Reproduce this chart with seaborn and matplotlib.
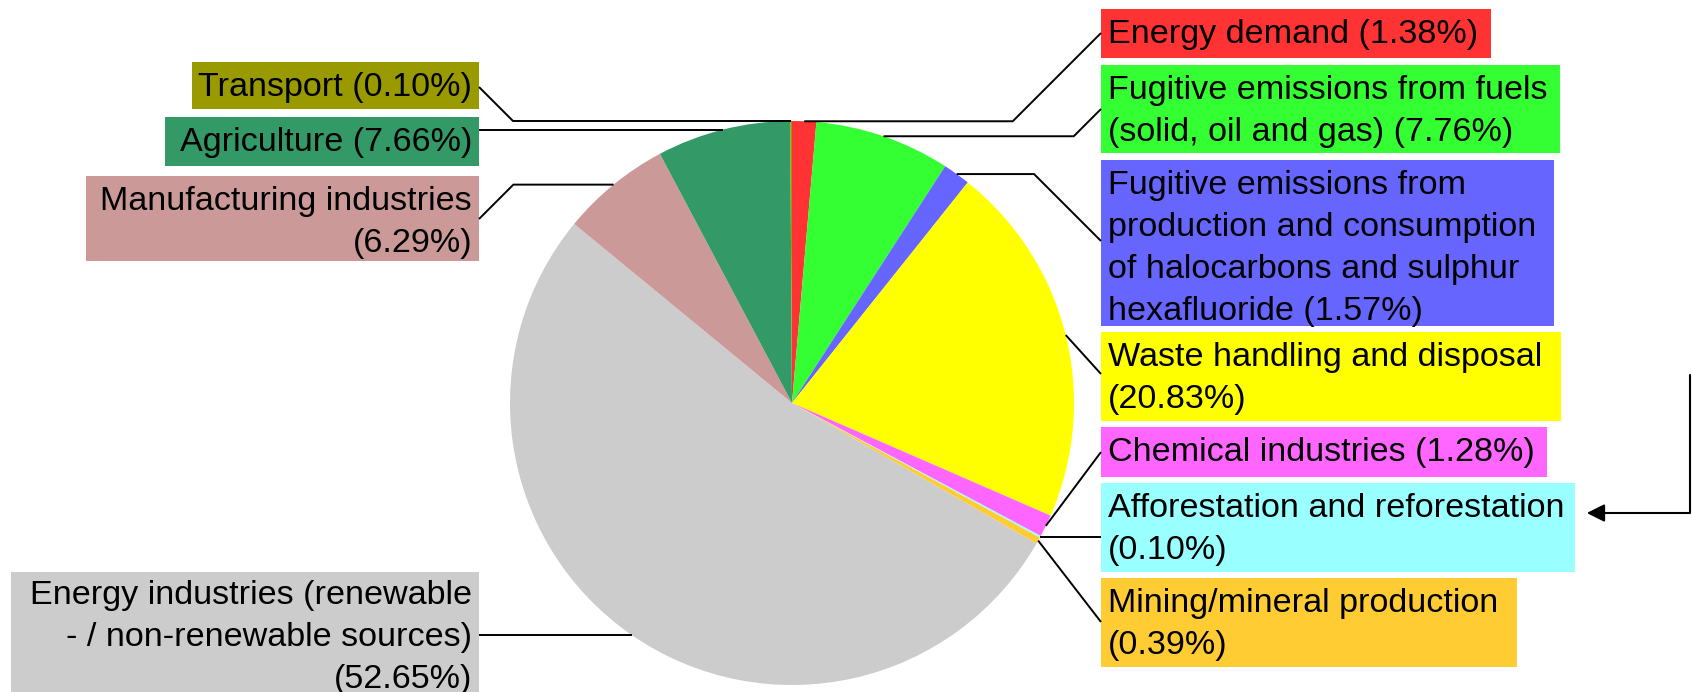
import numpy as np
import matplotlib
matplotlib.use("Agg")
import matplotlib.pyplot as plt
import seaborn as sns
from matplotlib.patches import Rectangle

sns.set_theme(style="white")
plt.rcParams['font.family'] = ['Liberation Sans', 'DejaVu Sans']

# ---- data ----
categories = [
    "Energy demand",
    "Fugitive emissions from fuels\n(solid, oil and gas)",
    "Fugitive emissions from\nproduction and consumption\nof halocarbons and sulphur\nhexafluoride",
    "Waste handling and disposal\n",
    "Chemical industries",
    "Afforestation and reforestation\n",
    "Mining/mineral production\n",
    "Energy industries (renewable\n- / non-renewable sources)\n",
    "Manufacturing industries\n",
    "Agriculture",
    "Transport",
]
shares = [1.38, 7.76, 1.57, 20.83, 1.28, 0.10, 0.39, 52.65, 6.29, 7.66, 0.10]
colors = ["#FF3333", "#33FF33", "#6666FF", "#FFFF00", "#FF66FF", "#99FFFF",
          "#FFCC33", "#CCCCCC", "#CC9999", "#339966", "#999900"]

# ---- layout (pixel coordinates, y downward) ----
W, H = 1692, 692
CX, CY, R = 792, 403, 282
# box: (x0, y0, x1, y1), side, connection y (None -> anchor y), text offset
boxes = [
    ((1101, 9, 1491, 58), "R", 33, 10),
    ((1101, 65, 1560, 153), "R", 109, 10),
    ((1101, 160, 1554, 326), "R", 241, 10),
    ((1101, 332, 1561, 421), "R", 374, 10),
    ((1101, 427, 1547, 477), "R", 452, 10),
    ((1101, 483, 1575, 572), "R", None, 10),
    ((1101, 578, 1517, 667), "R", 622, 10),
    ((11, 572, 479, 700), "L", None, 8),
    ((86, 176, 479, 261), "L", 219, 10),
    ((165, 117, 479, 166), "L", None, 10),
    ((192, 62, 479, 109), "L", 87, 10),
]

fig = plt.figure(figsize=(W / 100, H / 100), dpi=100)
ax = fig.add_axes([0, 0, 1, 1])

# y axis is inverted below, so startangle=-90 points up and counterclock=True runs clockwise on screen
wedges, _ = ax.pie(shares, colors=colors, startangle=-90, counterclock=True,
                   center=(CX, CY), radius=R, frame=True,
                   wedgeprops=dict(linewidth=0, antialiased=True))
ax.set_xlim(0, W)
ax.set_ylim(H, 0)
ax.set_aspect("equal")
ax.axis("off")

total = sum(shares)
cum = 0.0
for name, val, col, (box, side, ty, off) in zip(categories, shares, colors, boxes):
    mid = (cum + val / 2) / total * 360.0
    cum += val
    th = np.deg2rad(mid)
    axp = CX + R * np.sin(th)
    ayp = CY - R * np.cos(th)
    x0, y0, x1, y1 = box
    ax.add_patch(Rectangle((x0, y0), x1 - x0, y1 - y0, facecolor=col,
                           edgecolor="none", zorder=3))
    label = f"{name}({val:.2f}%)" if name.endswith("\n") else f"{name} ({val:.2f}%)"
    if side == "R":
        ax.text(x0 + 7, y0 + off, label, ha="left", va="top", fontsize=24.6,
                linespacing=1.46, color="black", zorder=4, multialignment="left")
        bx = x0
    else:
        ax.text(x1 - 7, y0 + off, label, ha="right", va="top", fontsize=24.6,
                linespacing=1.46, color="black", zorder=4, multialignment="right")
        bx = x1
    if ty is None:
        ty = ayp
    dy = abs(ty - ayp)
    if side == "R":
        ex = bx - dy
        pts = [(axp, ayp), (ex, ayp), (bx, ty)] if ex > axp else [(axp, ayp), (bx, ty)]
    else:
        ex = bx + dy
        pts = [(axp, ayp), (ex, ayp), (bx, ty)] if ex < axp else [(axp, ayp), (bx, ty)]
    xs, ys = zip(*pts)
    ax.plot(xs, ys, color="black", lw=1.4, zorder=5, solid_capstyle="butt")

# arrow pointing at the afforestation label
ax.plot([1690, 1690, 1598], [375, 513, 513], color="black", lw=1.5, zorder=5)
ax.annotate("", xy=(1584, 513), xytext=(1600, 513),
            arrowprops=dict(arrowstyle="-|>,head_length=0.9,head_width=0.45",
                            color="black", lw=1.5), zorder=6)

fig.savefig("out.png", dpi=100, facecolor="white")
